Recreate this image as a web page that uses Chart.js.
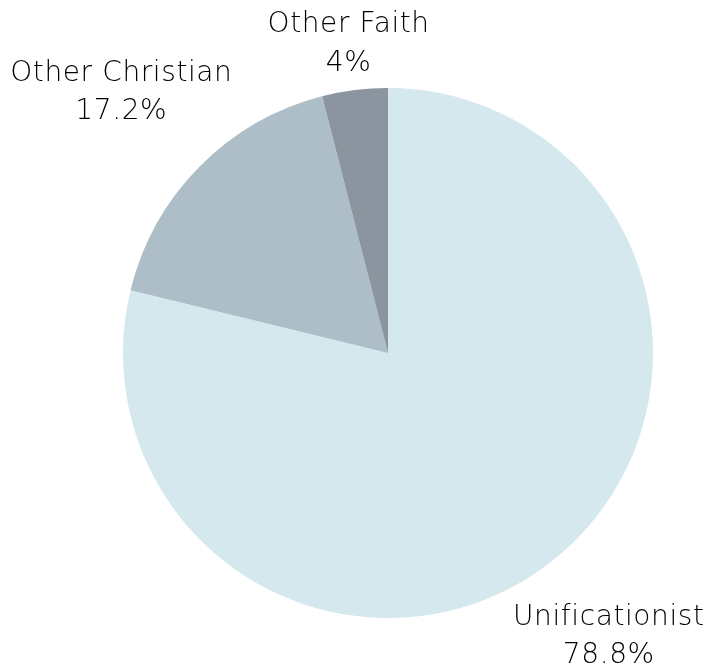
<!DOCTYPE html>
<html>
<head>
<meta charset="utf-8">
<script src="https://cdn.jsdelivr.net/npm/chart.js@4.4.0/dist/chart.umd.min.js"></script>
<style>
  html, body { margin: 0; padding: 0; background: #ffffff; }
  #wrap { width: 710px; height: 672px; }
</style>
</head>
<body>
<div id="wrap"><canvas id="c" width="710" height="672"></canvas></div>
<script>
const categories = ["Unificationist", "Other Christian", "Other Faith"];
const values = [78.8, 17.2, 4];
const valueLabels = ["78.8%", "17.2%", "4%"];
const colors = ["#d4e8ed", "#adbec8", "#8a95a0"];

const FONT_SIZE = 28;
const FONT = '200 ' + FONT_SIZE + 'px "DejaVu Sans", sans-serif';
const LINE_GAP = 38.5;
const CAP_H = 0.729 * FONT_SIZE;
const PAD = 10;

const outsideLabels = {
  id: 'outsideLabels',
  afterDraw(chart) {
    const ctx = chart.ctx;
    const meta = chart.getDatasetMeta(0);
    ctx.save();
    ctx.font = FONT;
    try { ctx.letterSpacing = '0.6px'; } catch (e) {}
    ctx.fillStyle = '#000000';
    ctx.textAlign = 'center';
    ctx.textBaseline = 'alphabetic';
    meta.data.forEach((arc, i) => {
      const p = arc.getProps(['x', 'y', 'startAngle', 'endAngle', 'outerRadius'], true);
      const mid = (p.startAngle + p.endAngle) / 2;
      const cx = Math.cos(mid), sy = Math.sin(mid);
      const lines = [categories[i], valueLabels[i]];
      const w = Math.max(...lines.map(l => ctx.measureText(l).width));
      const hh = (LINE_GAP * (lines.length - 1) + CAP_H) / 2;
      const d = p.outerRadius + PAD + Math.abs(cx) * w / 2 + Math.abs(sy) * hh;
      const bx = p.x + cx * d;
      const by = p.y + sy * d;
      lines.forEach((l, j) => {
        ctx.fillText(l, bx, by - hh + CAP_H + LINE_GAP * j);
      });
    });
    ctx.restore();
  }
};

new Chart(document.getElementById('c'), {
  type: 'pie',
  data: {
    labels: categories,
    datasets: [{
      data: values,
      backgroundColor: colors,
      borderWidth: 0
    }]
  },
  options: {
    responsive: false,
    animation: false,
    layout: { padding: { top: 88, bottom: 54, left: 123, right: 57 } },
    plugins: {
      legend: { display: false },
      tooltip: { enabled: false }
    }
  },
  plugins: [outsideLabels]
});
</script>
</body>
</html>
